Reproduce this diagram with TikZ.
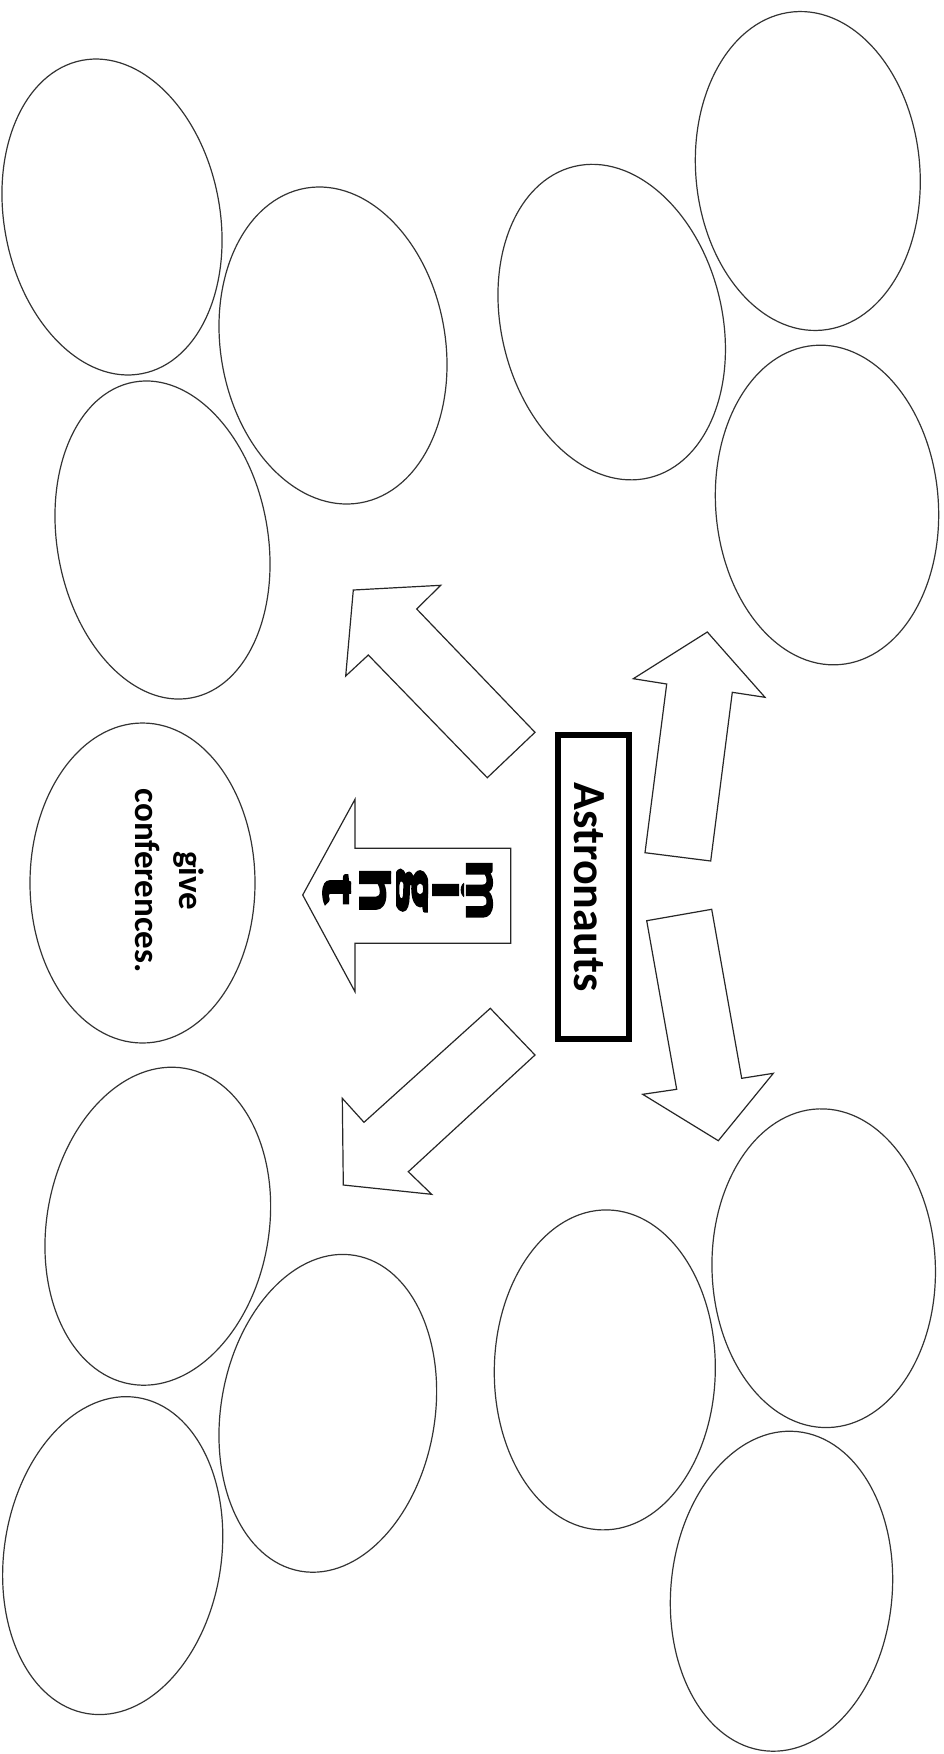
\documentclass[tikz,border=0pt]{standalone}
\usepackage{fontspec}
\setmainfont{Carlito}
\newfontfamily\mightfont[FakeBold=3]{Carlito Bold}
\usetikzlibrary{shapes.geometric}
\begin{document}
\begin{tikzpicture}[x=1pt,y=1pt,line join=miter,
  bubble/.style={draw=black!80, line width=1.2pt, ellipse, inner sep=0pt, outer sep=0pt},
  blockarrow/.style={draw=black!85, line width=1.2pt, fill=white},
  letter/.style={rotate=-90, anchor=base, inner sep=0pt, font=\fontsize{52}{56}\mightfont},
]
\useasboundingbox (0,0) rectangle (944,-1754);

% ---- ellipses (upper half) ----
\node[bubble, minimum width=215.6pt, minimum height=319pt,   rotate=10.8] (e1) at (112,-217) {};
\node[bubble, minimum width=224.6pt, minimum height=319.4pt, rotate=9.9]  (e2) at (333,-345.5) {};
\node[bubble, minimum width=210.6pt, minimum height=321pt,   rotate=10.3] (e3) at (162.5,-540) {};
\node[bubble, minimum width=220.8pt, minimum height=320.2pt, rotate=13.6] (e4) at (611.7,-322.1) {};
\node[bubble, minimum width=224pt,   minimum height=319.6pt, rotate=5.2]  (e5) at (807.8,-171) {};
\node[bubble, minimum width=222.6pt, minimum height=320.2pt, rotate=4.6]  (e6) at (827,-505) {};
% ---- middle ellipse with text ----
\node[bubble, minimum width=225pt,   minimum height=320pt] (e7) at (142.5,-883) {};
\node[rotate=-90, align=center, inner sep=0pt, font=\fontsize{35}{44}\selectfont\bfseries] (e7text) at (170,-880.8) {give\\conferences.};
% ---- ellipses (lower half) ----
\node[bubble, minimum width=222.2pt, minimum height=320.4pt, rotate=-9.8] (e8)  at (157.8,-1226.2) {};
\node[bubble, minimum width=213.8pt, minimum height=320.4pt, rotate=-9.8] (e9)  at (327.8,-1413.3) {};
\node[bubble, minimum width=217pt,   minimum height=320pt,   rotate=-9]   (e10) at (112.7,-1555.6) {};
\node[bubble, minimum width=221pt,   minimum height=320pt,   rotate=-1]   (e11) at (604.8,-1369.9) {};
\node[bubble, minimum width=223.4pt, minimum height=318.8pt, rotate=1.7]  (e12) at (823.7,-1268.2) {};
\node[bubble, minimum width=221.2pt, minimum height=320.8pt, rotate=-5.6] (e13) at (781.5,-1591.2) {};

% ---- central box ----
\node[draw=black, line width=6pt, rotate=-90, minimum width=303.4pt, minimum height=71.3pt, inner sep=0pt,
      font=\fontsize{46}{50}\selectfont\bfseries] (astro) at (593.7,-887)
      {\raisebox{-4.7pt}[\height][\depth]{Astronauts}};

% ---- block arrows ----
\draw[blockarrow] (353.3,-590) -- (440.7,-585.3) -- (416.7,-609) -- (535,-732.3) -- (487.3,-777.7) -- (368.3,-655) -- (345.7,-676) -- cycle;
\draw[blockarrow] (707.3,-632) -- (765,-697.3) -- (732.3,-692.3) -- (710.7,-861) -- (645,-852.7) -- (666.7,-684) -- (633.3,-678.7) -- cycle;
\draw[blockarrow] (343.3,-1185) -- (342.3,-1098.3) -- (364,-1122.3) -- (490.3,-1008.3) -- (535,-1055) -- (408.3,-1171.7) -- (431.7,-1194.3) -- cycle;
\draw[blockarrow] (718.3,-1140.7) -- (642.7,-1094.3) -- (676.7,-1089.3) -- (646.7,-920.7) -- (711.7,-909.3) -- (741.7,-1078.3) -- (773.3,-1073.3) -- cycle;

% ---- "might" arrow ----
\draw[blockarrow] (302.7,-895) -- (355,-799.3) -- (355,-848.3) -- (510.7,-848.3) -- (510.7,-943.3) -- (355,-943.3) -- (355,-991.7) -- cycle;
\begin{scope}
  \clip (465,-850) rectangle (495,-935);
  \node[letter] (lm) at (466.7,-890) {\scalebox{1.45}[1]{m}};
\end{scope}
\begin{scope}
  \clip (431,-850) rectangle (464,-935);
  \node[letter] (li) at (433,-890) {\scalebox{1.55}[1]{i}};
\end{scope}
\begin{scope}
  \clip (396,-850) rectangle (428,-935);
  \node[letter] (lg) at (402.7,-890) {\scalebox{1.8}[1]{g}};
\end{scope}
\begin{scope}
  \clip (359,-850) rectangle (391,-935);
  \node[letter] (lh) at (360,-890) {\scalebox{1.65}[1]{h}};
\end{scope}
\begin{scope}
  \clip (322,-850) rectangle (351,-935);
  \node[letter] (lt) at (323.3,-890) {\scalebox{1.7}[1]{t}};
\end{scope}
\end{tikzpicture}
\end{document}
